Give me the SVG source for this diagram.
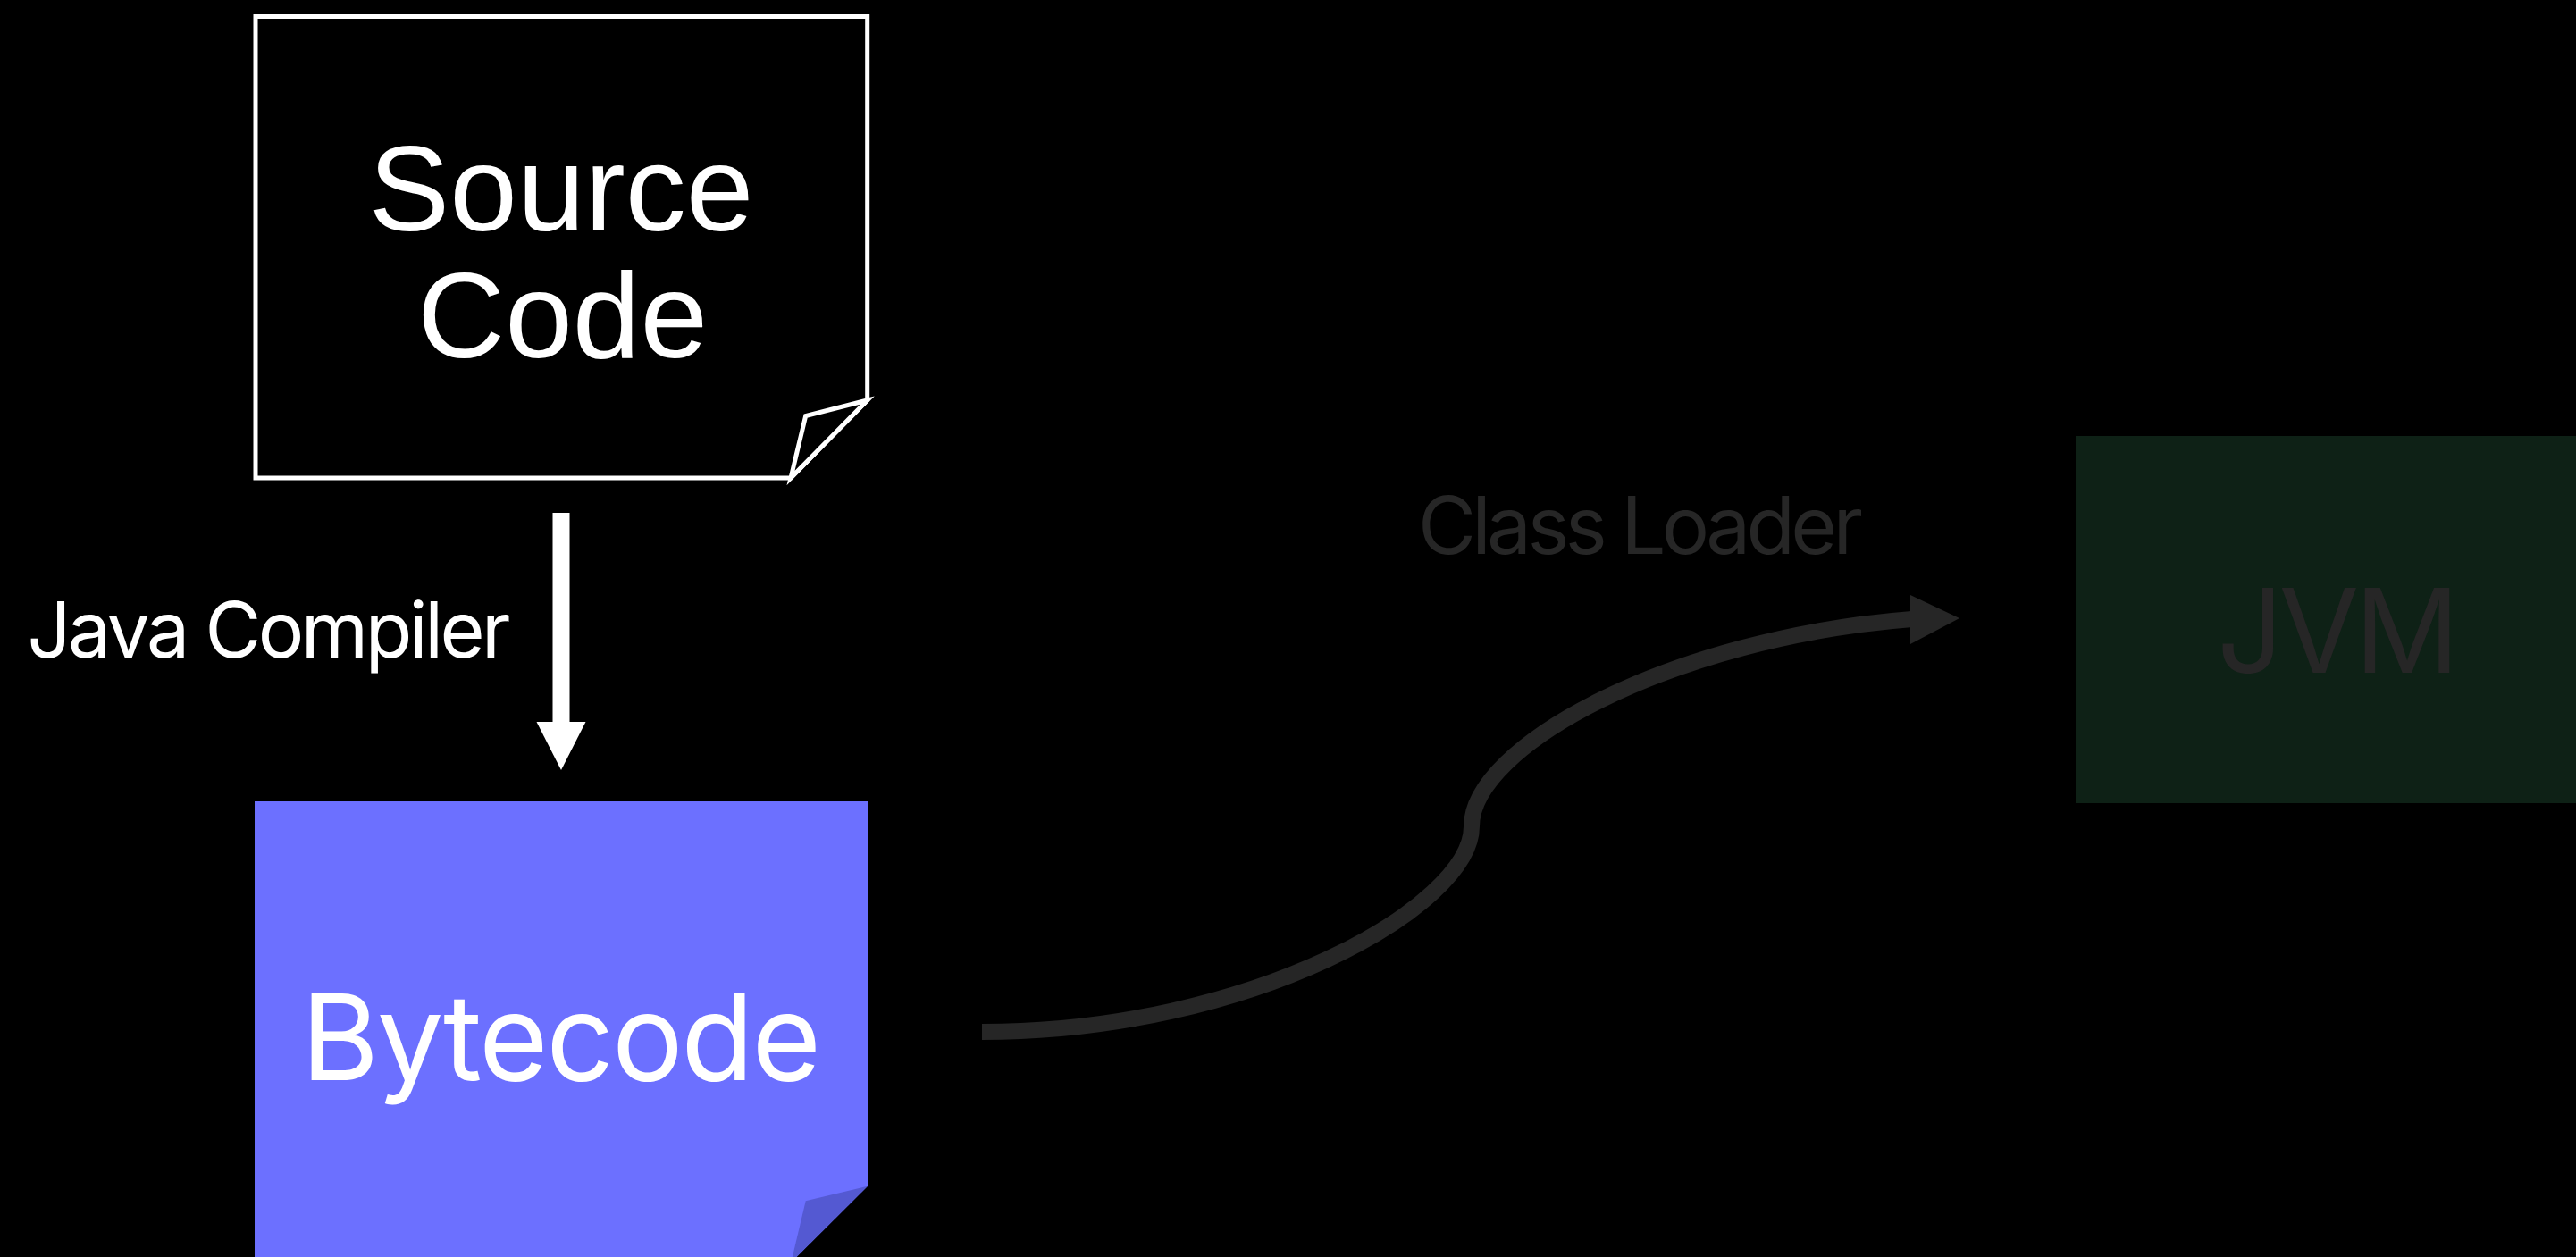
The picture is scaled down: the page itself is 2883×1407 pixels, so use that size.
<svg xmlns="http://www.w3.org/2000/svg" width="2883" height="1407" viewBox="0 0 2883 1407">
  <style>
    .sans { font-family: Inter, "Liberation Sans", Arial, sans-serif; }
    .arial { font-family: "Liberation Sans", Arial, sans-serif; }
    .white { fill: #ffffff; }
    .dim { fill: #262626; }
  </style>
  <rect x="0" y="0" width="2883" height="1407" fill="#000000"/>

  <g id="source-code">
    <path d="M286,18.5 H970.7 V448 L885,535 H286 Z" fill="#000000" stroke="#ffffff" stroke-width="5" stroke-linejoin="miter"/>
    <path d="M970.7,448 L901.7,465.5 L885,535 Z" fill="#000000" stroke="#ffffff" stroke-width="5" stroke-linejoin="miter"/>
    <text class="arial white" x="628" y="258" font-size="136" text-anchor="middle">Source</text>
    <text class="arial white" x="629.5" y="400" font-size="136" text-anchor="middle">Code</text>
  </g>

  <g id="bytecode">
    <path d="M285,897 H971 V1327.7 L885.4,1413 H285 Z" fill="#6c70ff"/>
    <path d="M971,1327.7 L901.7,1344.3 L885.4,1413 Z" fill="#5459d2"/>
    <text class="sans white" x="628" y="1209" font-size="133" text-anchor="middle" textLength="582">Bytecode</text>
  </g>

  <g id="jvm">
    <rect x="2323" y="488" width="600" height="411" fill="#0e2116"/>
    <text class="sans dim" x="2614.5" y="753" font-size="130" letter-spacing="-5" text-anchor="middle">JVM</text>
  </g>

  <g id="connectors">
    <g id="java-compiler-edge">
      <line x1="628" y1="574" x2="628" y2="810" stroke="#ffffff" stroke-width="19"/>
      <polygon points="600.5,808 655.5,808 628,862" fill="#ffffff"/>
      <text class="sans white" x="301" y="736" font-size="86" text-anchor="middle" textLength="541">Java Compiler</text>
    </g>
    <g id="class-loader-edge">
      <path d="M1099,1155 C1399,1155 1647,1015 1647,925 C1647,835 1870,714 2140,693" fill="none" stroke="#262626" stroke-width="18"/>
      <polygon points="2138,666 2193,692 2138,721" fill="#262626"/>
      <text class="sans dim" x="1836" y="620" font-size="89" text-anchor="middle" textLength="498">Class Loader</text>
    </g>
  </g>
</svg>
